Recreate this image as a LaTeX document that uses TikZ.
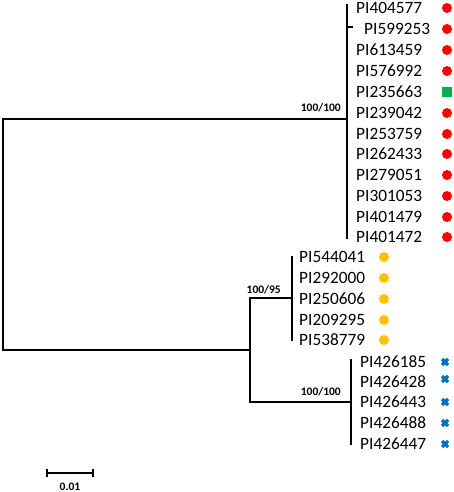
\documentclass[tikz,border=0pt]{standalone}
\usepackage{fontspec}
\setmainfont{Carlito}
\begin{document}
\begin{tikzpicture}[x=1pt,y=-1pt,
  branch/.style={line width=1.8pt, line cap=rect},
  taxon/.style={anchor=west, inner sep=0pt, font=\fontsize{17.3}{18}\selectfont},
  boot/.style={anchor=base east, inner sep=0pt, font=\fontsize{11.5}{12}\selectfont\bfseries},
  reddot/.style={circle, fill={rgb,255:red,255;green,0;blue,0}, minimum size=10pt, inner sep=0pt},
  yeldot/.style={circle, fill={rgb,255:red,255;green,192;blue,0}, minimum size=10pt, inner sep=0pt},
  greensq/.style={rectangle, fill={rgb,255:red,0;green,176;blue,80}, minimum size=10pt, inner sep=0pt},
  bluex/.style={line width=3.2pt, draw={rgb,255:red,0;green,112;blue,192}}
]
\useasboundingbox (0,0) rectangle (454,492);

% internal coordinates
\coordinate (r0) at (3,119);
\coordinate (r1) at (3,350);
\coordinate (a0) at (347,119);
\coordinate (at) at (347,5);
\coordinate (ab) at (347,238);
\coordinate (m0) at (250,350);
\coordinate (mt) at (250,298);
\coordinate (mb) at (250,402);
\coordinate (y0) at (292,298);
\coordinate (yt) at (292,257);
\coordinate (yb) at (292,340);
\coordinate (b0) at (351,402);
\coordinate (bt) at (351,360);
\coordinate (bb) at (351,444);
\coordinate (t1) at (347,27);
\coordinate (t2) at (353,27);

% tree
\draw[branch] (r0) -- (r1);
\draw[branch] (r0) -- (a0);
\draw[branch] (at) -- (ab);
\draw[line width=1.5pt] (t1) -- (t2);
\draw[branch] (r1) -- (m0);
\draw[branch] (mt) -- (mb);
\draw[branch] (mt) -- (y0);
\draw[branch] (yt) -- (yb);
\draw[branch] (mb) -- (b0);
\draw[branch] (bt) -- (bb);

% bootstrap labels
\node[boot] (bs1) at (341,112) {100/100};
\node[boot] (bs2) at (281,293) {100/95};
\node[boot] (bs3) at (341,395) {100/100};

% top clade
\node[taxon] (n1) at (356,8) {PI404577};
\node[taxon] (n2) at (364,29) {PI599253};
\node[taxon] (n3) at (356,50) {PI613459};
\node[taxon] (n4) at (356,71) {PI576992};
\node[taxon] (n5) at (356,92) {PI235663};
\node[taxon] (n6) at (356,113) {PI239042};
\node[taxon] (n7) at (356,134) {PI253759};
\node[taxon] (n8) at (356,154) {PI262433};
\node[taxon] (n9) at (356,175) {PI279051};
\node[taxon] (n10) at (356,196) {PI301053};
\node[taxon] (n11) at (356,217) {PI401479};
\node[taxon] (n12) at (356,237) {PI401472};
\foreach \i/\y in {1/8,2/29,3/50,4/71,6/113,7/134,8/154,9/175,10/196,11/217,12/237}
  \node[reddot] (d\i) at (447,\y) {};
\node[greensq] (d5) at (447,92) {};

% yellow clade
\node[taxon] (y1) at (299,257) {PI544041};
\node[taxon] (y2) at (299,278) {PI292000};
\node[taxon] (y3) at (299,299) {PI250606};
\node[taxon] (y4) at (299,320) {PI209295};
\node[taxon] (y5) at (299,340) {PI538779};
\foreach \i/\y in {1/257,2/278,3/299,4/320,5/340}
  \node[yeldot] (e\i) at (384,\y) {};

% blue clade
\node[taxon] (z1) at (360,362) {PI426185};
\node[taxon] (z2) at (360,382) {PI426428};
\node[taxon] (z3) at (360,402) {PI426443};
\node[taxon] (z4) at (360,423) {PI426488};
\node[taxon] (z5) at (360,444) {PI426447};
\foreach \i/\y in {1/362,2/379,3/402,4/423,5/444}{
  \coordinate (x\i) at (445,\y);
  \draw[bluex] ([shift={(-3,-3)}]x\i) -- ([shift={(3,3)}]x\i);
  \draw[bluex] ([shift={(-3,3)}]x\i) -- ([shift={(3,-3)}]x\i);
}

% scale bar
\coordinate (s0) at (47,473);
\coordinate (s1) at (93,473);
\draw[line width=1.6pt] (s0) -- (s1);
\draw[line width=1.6pt] ([yshift=-4]s0) -- ([yshift=4]s0);
\draw[line width=1.6pt] ([yshift=-4]s1) -- ([yshift=4]s1);
\node[anchor=base, inner sep=0pt, font=\fontsize{11.5}{12}\selectfont\bfseries] (sl) at (70,490) {0.01};
\end{tikzpicture}
\end{document}
